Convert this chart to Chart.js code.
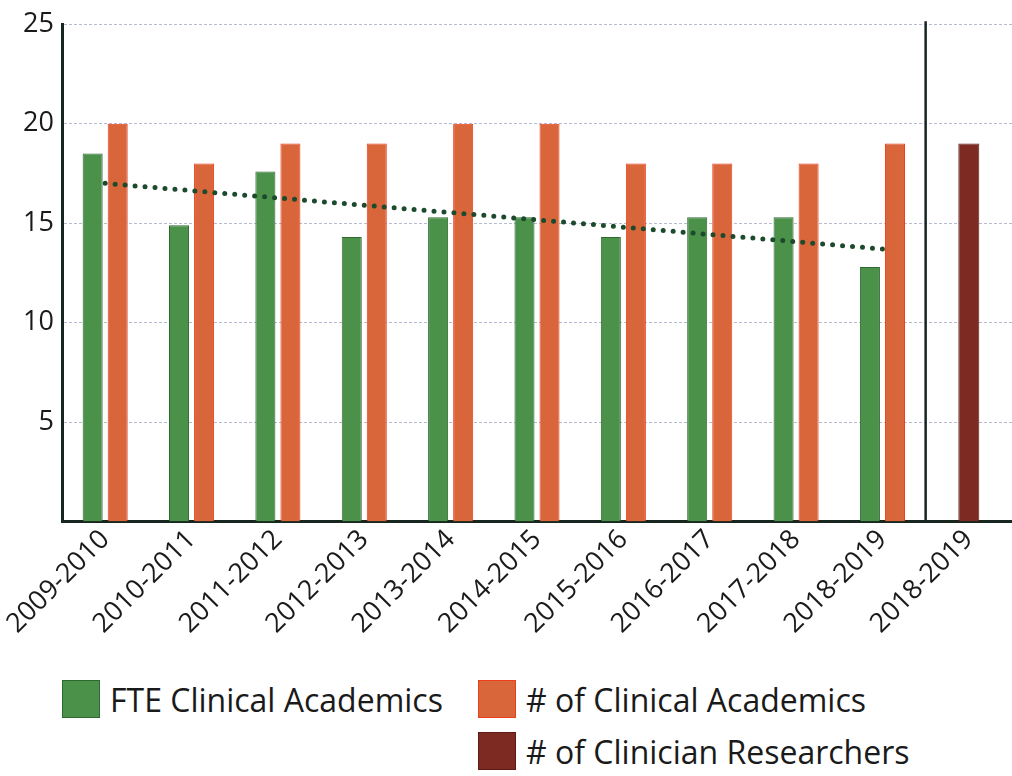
<!DOCTYPE html>
<html>
<head>
<meta charset="utf-8">
<script src="https://cdn.jsdelivr.net/npm/chart.js@4"></script>
<style>
  html, body { margin: 0; padding: 0; background: #fff; }
  #wrap { position: relative; width: 1012px; height: 776px; }
  #box { position: absolute; left: 0; top: 0; width: 1012px; height: 642px; }
  #legend {
    position: absolute; left: 62px; top: 680px;
    display: grid; grid-template-columns: 416px auto; row-gap: 14px;
    font-family: "Open Sans", sans-serif; font-size: 32px; color: #1a1a1a;
  }
  .item { display: flex; align-items: center; height: 38px; white-space: nowrap; }
  .swatch { width: 38px; height: 38px; margin-right: 10px; box-sizing: border-box; border: 1px solid; flex: none; }
</style>
</head>
<body>
<div id="wrap">
  <div id="box"><canvas id="staffChart"></canvas></div>
  <div id="legend"></div>
</div>
<script>
// academic years on the x axis (the last one is the separate researcher panel)
const years = ['2009-2010', '2010-2011', '2011-2012', '2012-2013', '2013-2014',
               '2014-2015', '2015-2016', '2016-2017', '2017-2018', '2018-2019', '2018-2019'];

const fteAcademics   = [18.5, 14.9, 17.6, 14.3, 15.3, 15.3, 14.3, 15.3, 15.3, 12.8, null];
const numAcademics   = [20, 18, 19, 19, 20, 20, 18, 18, 18, 19, null];
const numResearchers = [null, null, null, null, null, null, null, null, null, null, 19];

// FTE trend, start and end values
const fteTrend = [17.0, null, null, null, null, null, null, null, null, 13.7, null];

const yTicks = [5, 10, 15, 20, 25];

const colors = {
  green: '#4b9149', greenEdge: '#2d6a30',
  orange: '#d9663a', orangeEdge: '#ec3f1c',
  maroon: '#7c2a22', maroonEdge: '#5e1a14',
  trend: '#1c4a2c', axis: '#17261f'
};

// vertical rule between the academics years and the researcher column
const separator = {
  id: 'separator',
  afterDatasetsDraw(chart) {
    const x = chart.scales.x;
    const area = chart.chartArea;
    const pos = (x.getPixelForValue(9) + x.getPixelForValue(10)) / 2;
    const ctx = chart.ctx;
    ctx.save();
    ctx.strokeStyle = colors.axis;
    ctx.lineWidth = 2.5;
    ctx.beginPath();
    ctx.moveTo(pos, area.top - 3);
    ctx.lineTo(pos, area.bottom);
    ctx.stroke();
    ctx.restore();
  }
};

const barCommon = {
  borderWidth: 1,
  skipNull: true,
  categoryPercentage: 0.58,
  barPercentage: 0.8,
  maxBarThickness: 21
};

const ctx = document.getElementById('staffChart').getContext('2d');
const staffChart = new Chart(ctx, {
  type: 'bar',
  data: {
    labels: years,
    datasets: [
      {
        type: 'line',
        label: 'Trend',
        data: fteTrend,
        spanGaps: true,
        borderColor: colors.trend,
        borderWidth: 5,
        borderDash: [0, 10],
        borderCapStyle: 'round',
        pointRadius: 0,
        fill: false,
        order: 0
      },
      Object.assign({ label: 'FTE Clinical Academics', data: fteAcademics,
        backgroundColor: colors.green, borderColor: colors.greenEdge, order: 1 }, barCommon),
      Object.assign({ label: '# of Clinical Academics', data: numAcademics,
        backgroundColor: colors.orange, borderColor: colors.orangeEdge, order: 1 }, barCommon),
      Object.assign({ label: '# of Clinician Researchers', data: numResearchers,
        backgroundColor: colors.maroon, borderColor: colors.maroonEdge, order: 1 }, barCommon)
    ]
  },
  options: {
    responsive: true,
    maintainAspectRatio: false,
    animation: false,
    layout: { padding: { top: 10, right: 0, left: 0, bottom: 0 } },
    plugins: {
      legend: { display: false },
      tooltip: { enabled: false }
    },
    scales: {
      x: {
        grid: { display: false, drawTicks: false },
        border: { color: colors.axis, width: 3 },
        ticks: {
          minRotation: 45, maxRotation: 45, padding: 2,
          color: '#1a1a1a',
          font: { family: 'Open Sans', size: 27 }
        }
      },
      y: {
        min: 0, max: 25,
        afterBuildTicks(scale) {
          scale.ticks = yTicks.map(v => ({ value: v }));
        },
        afterFit(scale) {
          scale.width = 62;
        },
        grid: { color: 'rgba(150,158,190,0.7)', lineWidth: 1, drawTicks: false },
        border: { color: colors.axis, width: 3, dash: [3, 2] },
        ticks: {
          padding: 8,
          color: '#1a1a1a',
          font: { family: 'Open Sans', size: 27 }
        }
      }
    }
  },
  plugins: [separator]
});

// legend: two columns, the researcher entry sits under the second column
const legendEl = document.getElementById('legend');
const legendRows = [1, 2, null, 3];
legendRows.forEach(i => {
  const cell = document.createElement('div');
  cell.className = 'item';
  if (i !== null) {
    const ds = staffChart.data.datasets[i];
    const sw = document.createElement('span');
    sw.className = 'swatch';
    sw.style.background = ds.backgroundColor;
    sw.style.borderColor = ds.borderColor;
    const txt = document.createElement('span');
    txt.textContent = ds.label;
    cell.appendChild(sw);
    cell.appendChild(txt);
  }
  legendEl.appendChild(cell);
});
</script>
</body>
</html>
